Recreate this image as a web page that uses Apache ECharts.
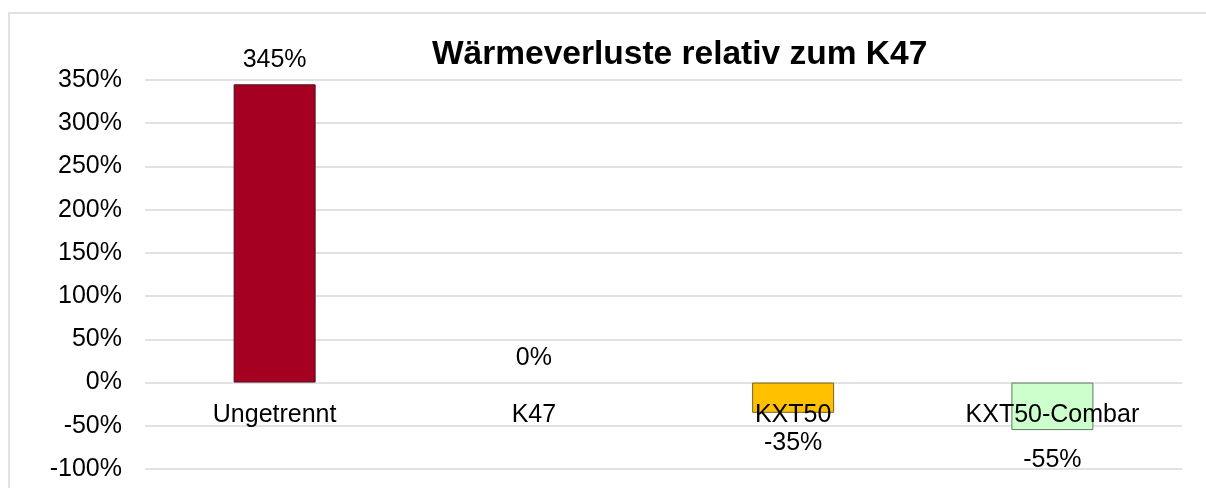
<!DOCTYPE html>
<html>
<head>
<meta charset="utf-8">
<title>Wärmeverluste relativ zum K47</title>
<script src="https://cdn.jsdelivr.net/npm/echarts@6/dist/echarts.min.js"></script>
<style>
    html, body { margin: 0; padding: 0; background: #fff; }
    #chart { width: 1206px; height: 488px; }
</style>
</head>
<body>
<div id="chart"></div>
<script>
// Kategorien und Werte (in %)
const categories = ['Ungetrennt', 'K47', 'KXT50', 'KXT50-Combar'];
const values = [345, 0, -35, -55];
const barColors = ['#A50021', '#FFC000', '#FFC000', '#CCFFCC'];
const borderColors = ['#4a1020', '#7a6020', '#7a6020', '#5f7a5f'];
const yTicks = { min: -100, max: 350, step: 50 };

const font = 'Liberation Sans, Arial, sans-serif';

const gridTop = 80, gridBottom = 19, chartHeight = 488;
// Abstand Nulllinie -> unterer Rand der Zeichenfläche (Beschriftung sitzt an der 0-Linie)
const plotH = chartHeight - gridTop - gridBottom;
const zeroOffset = plotH * (0 - yTicks.min) / (yTicks.max - yTicks.min);

const chart = echarts.init(document.getElementById('chart'));

const options = {
    animation: false,
    textStyle: { fontFamily: font },
    title: {
        text: 'Wärmeverluste relativ zum K47',
        left: 432,
        top: 38,
        padding: 0,
        textStyle: { fontFamily: font, fontSize: 33.5, fontWeight: 'bold', color: '#000' }
    },
    graphic: [{
        type: 'rect',//äußerer Rahmen
        shape: { x: 9, y: 13, width: 1300, height: 600 },
        style: { fill: 'none', stroke: '#d9d9d9', lineWidth: 1.5 },
        silent: true
    }],
    grid: { left: 145, right: 24, top: gridTop, bottom: gridBottom, outerBoundsMode: 'none', containLabel: false },
    xAxis: {
        type: 'category',
        data: categories,
        z: 10,//Beschriftung über den Balken
        offset: -zeroOffset,
        axisLine: { show: false, onZero: false },
        axisTick: { show: false },
        axisLabel: { fontSize: 25, color: '#000', margin: 20, fontFamily: font }
    },
    yAxis: {
        type: 'value',
        min: yTicks.min,
        max: yTicks.max,
        interval: yTicks.step,
        axisLine: { show: false },
        axisTick: { show: false },
        splitLine: { lineStyle: { color: '#d9d9d9', width: 1.5 } },
        axisLabel: { fontSize: 25, color: '#000', margin: 23, padding: [6, 0, 0, 0], formatter: '{value}%', fontFamily: font }
    },
    series: [{
        type: 'bar',
        barWidth: 82,
        data: values.map((v, i) => ({
            value: v,
            itemStyle: { color: barColors[i], borderColor: borderColors[i], borderWidth: v === 0 ? 0 : 1 },
            label: { position: v < 0 ? 'bottom' : 'top', distance: v < 0 ? 18 : 12 }
        })),
        label: {
            show: true,
            fontSize: 25,
            color: '#000',
            fontFamily: font,
            formatter: (p) => p.value + '%'
        }
    }]
};

chart.setOption(options);
</script>
</body>
</html>
